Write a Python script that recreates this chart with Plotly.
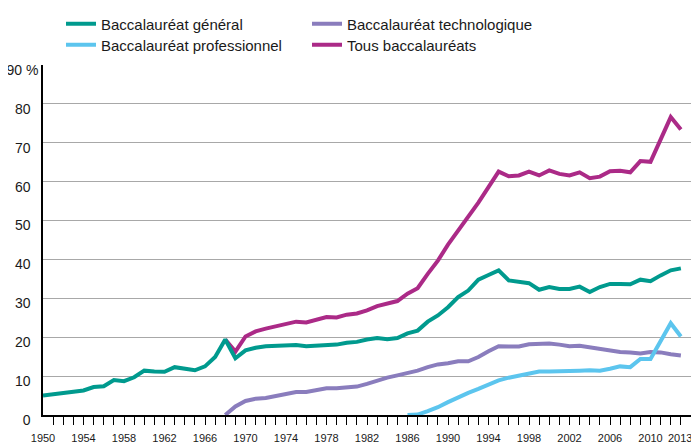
import plotly.graph_objects as go

# Taux d'accès au baccalauréat (%)
annees_general = list(range(1950, 2014))
bac_general = [
    5.0, 5.3, 5.7, 6.0, 6.3, 7.2, 7.4, 9.0, 8.7, 9.7,
    11.4, 11.2, 11.1, 12.3, 12.0, 11.5, 12.5, 14.9, 19.4, 14.6,
    16.6, 17.3, 17.7, 17.8, 18.0, 18.0, 17.7, 17.8, 18.1, 18.1,
    18.6, 18.8, 19.4, 19.8, 19.5, 19.8, 21.0, 21.7, 24.0, 25.6,
    27.7, 30.3, 32.0, 34.8, 36.0, 37.2, 34.6, 34.3, 33.9, 32.2,
    32.9, 32.4, 32.4, 33.0, 31.6, 32.9, 33.7, 33.7, 33.6, 34.8,
    34.4, 35.9, 37.2, 37.7,
]

annees_techno = list(range(1968, 2014))
bac_techno = [
    0.0, 2.2, 3.6, 4.2, 4.4, 4.9, 5.4, 5.9, 5.9, 6.5, 6.9, 6.9, 7.2, 7.3,
    8.0, 8.9, 9.6, 10.2, 10.8, 11.4, 12.3, 13.0, 13.3, 13.8,
    13.8, 14.9, 16.4, 17.7, 17.6, 17.6, 18.2, 18.2, 18.4, 18.1,
    17.7, 17.8, 17.4, 16.9, 16.7, 16.2, 16.1, 15.8, 16.2, 16.1,
    15.6, 15.3,
]

annees_pro = list(range(1986, 2014))
bac_pro = [
    0.0, 0.1, 1.0, 2.0, 3.3, 4.6, 5.7, 6.7, 7.8, 8.9,
    9.6, 10.2, 10.8, 11.2, 11.2, 11.2, 11.4, 11.4, 11.5, 11.4,
    11.9, 12.5, 12.3, 14.4, 14.4, 19.2, 23.6, 20.2,
]

annees_tous = list(range(1968, 2014))
bac_tous = [
    19.4, 16.3, 20.2, 21.5, 22.2, 22.8, 23.5, 24.0, 23.8, 24.6, 25.2, 25.1, 25.8, 26.1,
    26.9, 28.0, 28.6, 29.3, 31.2, 32.6, 36.3, 39.7, 43.8, 47.4,
    50.9, 54.6, 58.6, 62.6, 61.4, 61.6, 62.6, 61.6, 62.9, 62.0,
    61.6, 62.4, 60.9, 61.3, 62.7, 62.8, 62.4, 65.3, 65.1, 70.6,
    76.6, 73.4,
]

# le libellé "2013(p)" est décalé vers la droite comme sur l'original
x_tickvals = [1950, 1954, 1958, 1962, 1966, 1970, 1974, 1978, 1982, 1986,
              1990, 1994, 1998, 2002, 2006, 2010, 2013.6]
x_ticktext = [str(v) for v in x_tickvals[:-1]] + ["2013(p)"]
year_ticks = list(range(1951, 2015))
y_tickvals = [0, 10, 20, 30, 40, 50, 60, 70, 80, 90]
y_ticktext = [f"{v}\u00a0\u00a0" for v in y_tickvals[:-1]] + ["90 %"]

TEAL = "#009a8e"
PURPLE = "#8a7dbd"
CYAN = "#5cc5ee"
PINK = "#ab2a87"
FONT = "Liberation Sans, Arial, sans-serif"

# la page ajoute une marge de 8 px autour du graphique
PAGE = 8
W, H = 699 - PAGE, 444 - PAGE
ML, MR, MT, MB = 35, 8, 57, 29
PW, PH = W - ML - MR, H - MT - MB


def px_x(sx):
    return (sx - PAGE - ML) / PW


def px_y(sy):
    return (H - MB - (sy - PAGE)) / PH


fig = go.Figure()


def add_line(x, y, name, color, legend, rank):
    fig.add_trace(go.Scatter(
        x=x, y=y, name=name, mode="lines",
        line=dict(color=color, width=4),
        legend=legend, legendrank=rank,
        hovertemplate=f"{name}<br>%{{x}} : %{{y:.1f}} %<extra></extra>",
    ))


add_line(annees_techno, bac_techno, "Baccalauréat technologique", PURPLE, "legend", 2)
add_line(annees_pro, bac_pro, "Baccalauréat professionnel", CYAN, "legend2", 1)
add_line(annees_tous, bac_tous, "Tous baccalauréats", PINK, "legend2", 2)
add_line(annees_general, bac_general, "Baccalauréat général", TEAL, "legend", 1)

legend_style = dict(
    orientation="h", xref="paper", yref="paper",
    xanchor="left", yanchor="middle",
    entrywidth=201, entrywidthmode="pixels",
    bgcolor="rgba(0,0,0,0)", borderwidth=0,
    font=dict(family=FONT, size=15, color="#1a1a1a"),
)

fig.update_layout(
    width=W, height=H,
    margin=dict(l=ML, r=MR, t=MT, b=MB, pad=0, autoexpand=False),
    paper_bgcolor="white", plot_bgcolor="white",
    showlegend=True,
    legend=dict(x=px_x(61), y=px_y(24), **legend_style),
    legend2=dict(x=px_x(61), y=px_y(45), **legend_style),
    xaxis=dict(
        range=[1950, 2014], tickmode="array", tickvals=x_tickvals, ticktext=x_ticktext,
        ticks="inside", ticklen=0, tickangle=0, showgrid=False, zeroline=False,
        showline=True, linecolor="black", linewidth=1.5,
        tickfont=dict(family=FONT, size=11, color="#1a1a1a"),
        ticklabelstandoff=12, ticklabeloverflow="allow", automargin=False,
        minor=dict(tickmode="array", tickvals=year_ticks, ticks="outside",
                   ticklen=8, tickwidth=1.2, tickcolor="black", showgrid=False),
    ),
    yaxis=dict(
        range=[0, 90], tickmode="array", tickvals=y_tickvals, ticktext=y_ticktext,
        ticks="", showgrid=True, gridcolor="#a8a8a8", gridwidth=1.2, zeroline=False,
        showline=True, linecolor="black", linewidth=1.5,
        tickfont=dict(family=FONT, size=14, color="#1a1a1a"),
        ticklabelshift=5, ticklabelstandoff=0, automargin=False,
    ),
    hovermode="closest",
)

fig.write_html("out.html")
